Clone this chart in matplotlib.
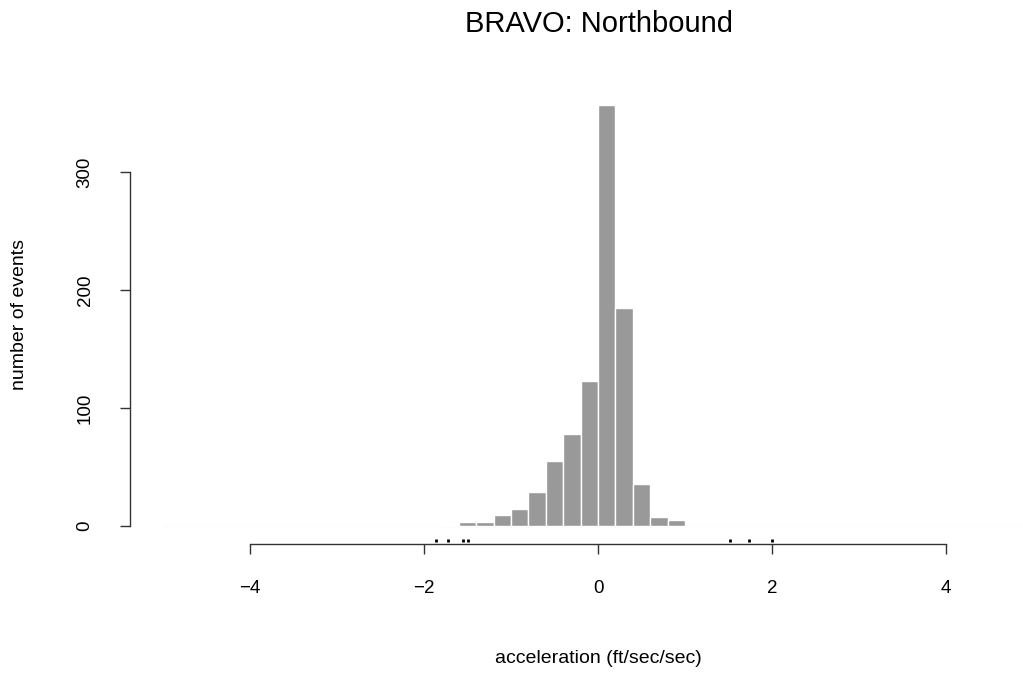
import numpy as np
import matplotlib.pyplot as plt

plt.rcParams['font.family'] = ['Liberation Sans', 'DejaVu Sans']

# histogram bins: 0.2 wide, from -5 to 5 (most are empty)
bin_edges = np.round(np.arange(-5.0, 5.0001, 0.2), 2)
occupied_left = [-1.8, -1.6, -1.4, -1.2, -1.0, -0.8, -0.6, -0.4, -0.2,
                 0.0, 0.2, 0.4, 0.6, 0.8]
occupied_count = [1, 3, 3, 9, 14, 29, 55, 78, 123, 357, 185, 36, 8, 5]

# rug of individual events drawn under the axis
rug_x = [-1.86, -1.72, -1.55, -1.50, 1.52, 1.74, 2.0]

x_ticks = [-4, -2, 0, 2, 4]
y_ticks = [0, 100, 200, 300]

counts = np.zeros(len(bin_edges) - 1)
for left, n in zip(occupied_left, occupied_count):
    counts[np.argmin(np.abs(bin_edges[:-1] - left))] = n

W, H = 1023, 673
fig = plt.figure(figsize=(W / 100, H / 100), dpi=100)

# axes box placed in pixel terms
left_px, right_px, bottom_px, top_px = 130, 1023, 544, 90
ax = fig.add_axes([left_px / W, (H - bottom_px) / H,
                   (right_px - left_px) / W, (bottom_px - top_px) / H])

# faint baseline of the empty bins
ax.hlines(0, bin_edges[0], bin_edges[-1], color='#f0f0f0', lw=1, zorder=1)
ax.bar(bin_edges[:-1], counts, width=0.2, align='edge', color='#999999',
       edgecolor='white', linewidth=1, zorder=2)
ax.vlines(rug_x, -11.2, -13.4, color='black', lw=2, zorder=3)

px_per_x, x0_px = 87.0, 598.0
px_per_y, y0_px = 1.18, 526.0
ax.set_xlim((left_px - x0_px) / px_per_x, (right_px - x0_px) / px_per_x)
ax.set_ylim((y0_px - bottom_px) / px_per_y, (y0_px - top_px) / px_per_y)

for s in ['top', 'right']:
    ax.spines[s].set_visible(False)
ax.spines['bottom'].set_bounds(-4, 4)
ax.spines['left'].set_bounds(0, 300)
for s in ['bottom', 'left']:
    ax.spines[s].set_color('#333333')
    ax.spines[s].set_linewidth(1)

ax.set_xticks(x_ticks)
ax.set_yticks(y_ticks)
ax.tick_params(axis='both', length=7.2, width=1, color='#333333',
               labelsize=13.5)
ax.tick_params(axis='x', pad=19)
ax.tick_params(axis='y', pad=19)
for lab in ax.get_yticklabels():
    lab.set_rotation(90)
    lab.set_va('center')

fig.text(599 / W, 1 - 32 / H, 'BRAVO: Northbound', fontsize=21,
         ha='center', va='baseline')
fig.text(598 / W, 1 - 663 / H, 'acceleration (ft/sec/sec)', fontsize=14,
         ha='center', va='baseline')
fig.text(20 / W, 1 - 315 / H, 'number of events', fontsize=14,
         rotation=90, ha='center', va='center')

fig.savefig('out.png', dpi=100)
